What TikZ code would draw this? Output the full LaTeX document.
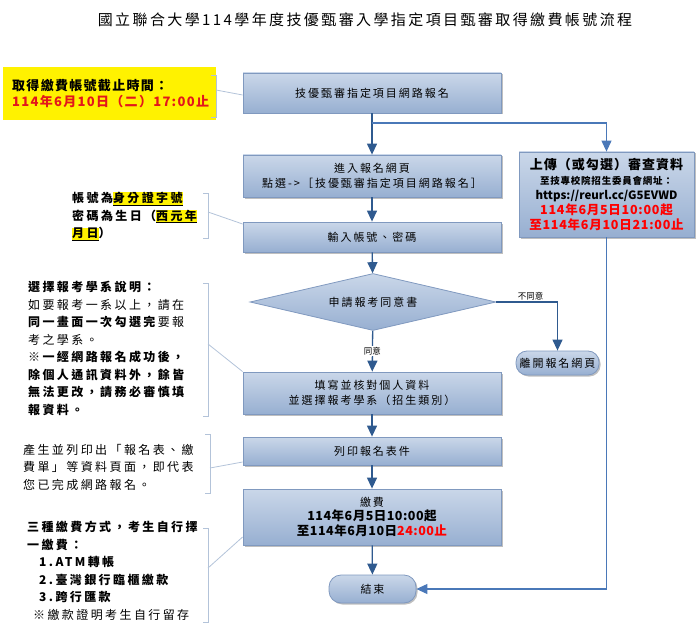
\documentclass[tikz,border=0pt]{standalone}
\usepackage{fontspec}
\setmainfont{Noto Sans CJK TC}
\usepackage{xcolor}
\usepackage{tikz}
\usetikzlibrary{shapes.geometric,arrows.meta,shadows,calc}

\definecolor{flowline}{HTML}{2F5A8F}
\definecolor{sideline}{HTML}{4A78B8}
\definecolor{boxtop}{HTML}{CAD7E9}
\definecolor{boxbot}{HTML}{97AFD1}
\definecolor{boxedge}{HTML}{8099BF}
\definecolor{notebar}{HTML}{B3C3D9}
\definecolor{alertred}{HTML}{E3161B}

\newcommand{\boxfont}{\fontsize{11bp}{15bp}\selectfont\addfontfeature{LetterSpace=18}}
\newcommand{\notefont}{\fontsize{12bp}{17.5bp}\selectfont\addfontfeature{LetterSpace=20}}
\newcommand{\hlmark}[1]{{\setlength{\fboxsep}{0pt}\colorbox{yellow}{\underline{#1}}}}

\begin{document}
\begin{tikzpicture}[
    x=1bp, y=-1bp,
    stepbox/.style={
        rectangle, draw=boxedge, line width=0.8bp,
        top color=boxtop, bottom color=boxbot,
        drop shadow={shadow xshift=1.5bp, shadow yshift=-1.5bp, fill=black, opacity=0.25},
        minimum width=258bp, align=center,
        font=\boxfont, inner sep=2bp
    },
    termbox/.style={stepbox, rounded corners=12bp},
    decide/.style={
        diamond, draw=boxedge, line width=0.8bp,
        top color=boxtop, bottom color=boxbot,
        minimum width=246bp, minimum height=57bp, aspect=4.3,
        inner sep=0pt, font=\boxfont
    },
    flow/.style={-{Triangle[length=11bp,width=10bp]}, draw=flowline, line width=1.3bp},
    sflow/.style={flow, draw=sideline, line width=1.1bp},
    tag/.style={font=\fontsize{8.5bp}{10bp}\selectfont, inner sep=1pt},
    note/.style={anchor=north west, align=left, font=\notefont, inner sep=0pt},
    bar/.style={draw=notebar, line width=0.8bp}
]
\useasboundingbox (0,0) rectangle (700,634);

% Title
\node[font=\fontsize{15bp}{18bp}\selectfont\addfontfeature{LetterSpace=16}] (title) at (365,20)
    {國立聯合大學114學年度技優甄審入學指定項目甄審取得繳費帳號流程};

% Main column
\node[stepbox, minimum height=40bp] (apply) at (372,93) {技優甄審指定項目網路報名};
\node[stepbox, minimum height=42bp] (enter) at (372,176) {進入報名網頁\\點選->［技優甄審指定項目網路報名］};
\node[stepbox, minimum height=30bp] (login) at (372,237) {輸入帳號、密碼};
\node[decide] (consent) at (373,302) {申請報考同意書};
\node[stepbox, minimum height=42bp] (fillin) at (372,393) {填寫並核對個人資料\\並選擇報考學系（招生類別）};
\node[stepbox, minimum height=28bp] (print) at (372,451) {列印報名表件};
\node[stepbox, minimum height=56bp] (pay) at (372,517) {繳費\\[-1bp]
    \fontsize{12.5bp}{15bp}\selectfont\bfseries\addfontfeature{LetterSpace=4}114年6月5日10:00起\\
    \fontsize{12.5bp}{15bp}\selectfont\bfseries\addfontfeature{LetterSpace=4}至114年6月10日\textcolor{red}{24:00止}};
\node[termbox, minimum width=87bp, minimum height=28bp] (finish) at (372.5,589) {結束};

% Side column
\node[termbox, minimum width=83bp, minimum height=24bp, rounded corners=11bp] (quit) at (557.5,363) {離開報名網頁};
\node[stepbox, minimum width=175bp, minimum height=85bp, inner sep=1bp] (upload) at (606.5,194.5) {
    {\fontsize{13bp}{14bp}\selectfont\bfseries\addfontfeature{LetterSpace=8}上傳（或勾選）審查資料}\\
    {\fontsize{9.5bp}{13bp}\selectfont\bfseries\addfontfeature{LetterSpace=8}至技專校院招生委員會網址：}\\
    {\fontsize{11.5bp}{14bp}\selectfont\bfseries\addfontfeature{LetterSpace=0}https://reurl.cc/G5EVWD}\\
    {\fontsize{12.5bp}{14bp}\selectfont\bfseries\color{red}\addfontfeature{LetterSpace=6}114年6月5日10:00起}\\
    {\fontsize{12.5bp}{14bp}\selectfont\bfseries\color{red}\addfontfeature{LetterSpace=6}至114年6月10日21:00止}
};

% Connectors
\coordinate (fork) at (372,123);
\draw[flow] (apply) -- (enter);
\draw[flow] (enter) -- (login);
\draw[flow] (login) -- (consent);
\draw[flow] (consent) -- node[tag, fill=white]{同意} (fillin);
\draw[flow] (consent.east) -| node[tag, pos=0.28, above]{不同意} (quit.north);
\draw[flow] (fillin) -- (print);
\draw[flow] (print) -- (pay);
\draw[flow] (pay) -- (finish);
\draw[sflow] (fork) -| (upload.north);
\draw[sflow] (upload.south) |- (finish.east);

% Notes on the left
\node[fill=yellow, anchor=north west, text width=195bp, minimum height=53bp, inner xsep=9bp, align=left,
      font=\fontsize{13bp}{16.5bp}\selectfont\bfseries\addfontfeature{LetterSpace=10}] (deadline) at (3,67)
    {取得繳費帳號截止時間：\\\textcolor{alertred}{114年6月10日（二）17:00止}};
\draw[bar] (211,75) -- (216,75) -- (216,117) -- (211,117);
\coordinate (n1) at (216,90);
\draw[bar] (n1) -- ([yshift=-2bp]apply.west);

\node[note, font=\notefont\bfseries] (account) at (72,192)
    {帳號為\hlmark{身分證字號}\\密碼為生日（\hlmark{西元年}\\\hlmark{月日}）};
\draw[bar] (203,193) -- (208,193) -- (208,238) -- (203,238);
\coordinate (n2) at (208,212);
\draw[bar] (n2) -- ([yshift=13bp]login.west);

\node[note] (choose) at (28,281)
    {\textbf{選擇報考學系說明：}\\
     如要報考一系以上，請在\\
     \textbf{同一畫面一次勾選完}要報\\
     考之學系。\\
     \textbf{※一經網路報名成功後，}\\
     \textbf{除個人通訊資料外，餘皆}\\
     \textbf{無法更改，請務必審慎填}\\
     \textbf{報資料。}};
\draw[bar] (203,283) -- (208,283) -- (208,416) -- (203,416);
\coordinate (n3) at (208,344);
\draw[bar] (n3) -- (fillin.north west);

\node[note] (printnote) at (23,444)
    {產生並列印出「報名表、繳\\費單」等資料頁面，即代表\\您已完成網路報名。};
\draw[bar] (205,434) -- (210,434) -- (210,493) -- (205,493);
\coordinate (n4) at (210,468);
\draw[bar] (n4) -- ([yshift=-11bp]print.west);

\node[note] (paynote) at (27,521)
    {\textbf{三種繳費方式，考生自行擇}\\
     \textbf{一繳費：}\\
     \hspace*{12bp}\textbf{1.ATM轉帳}\\
     \hspace*{12bp}\textbf{2.臺灣銀行臨櫃繳款}\\
     \hspace*{12bp}\textbf{3.跨行匯款}\\
     \hspace*{6bp}※繳款證明考生自行留存};
\draw[bar] (203,528) -- (208,528) -- (208,622) -- (203,622);
\coordinate (n5) at (208,568);
\draw[bar] (n5) -- ([yshift=-20bp]pay.west);
\end{tikzpicture}
\end{document}
